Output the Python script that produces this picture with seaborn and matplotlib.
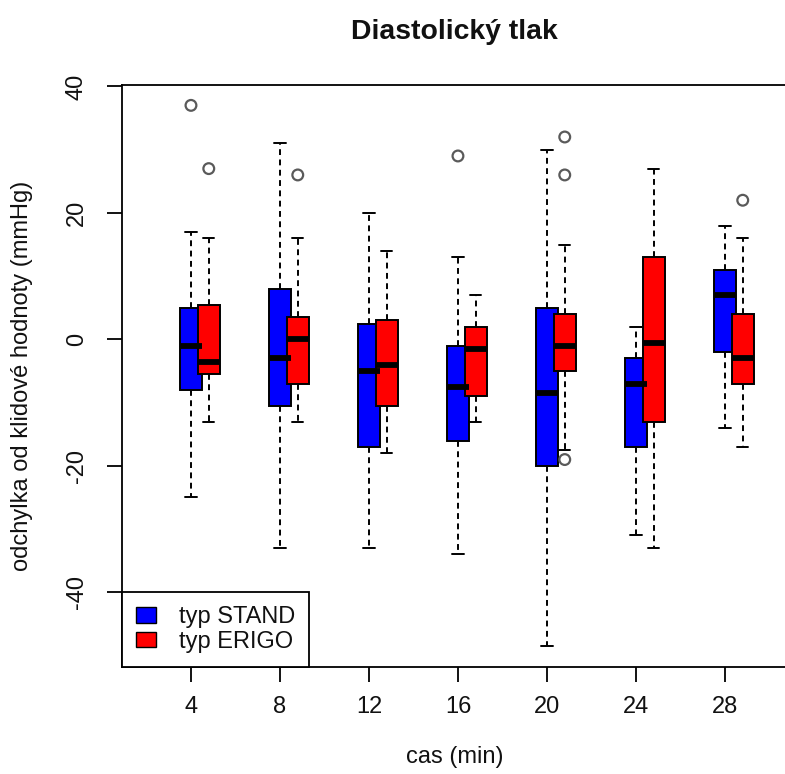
import numpy as np
import pandas as pd
import matplotlib
matplotlib.use("Agg")
import matplotlib.pyplot as plt
from matplotlib.patches import Patch
import seaborn as sns

# ---- data ----
times = [4, 8, 12, 16, 20, 24, 28]

stand_lo  = [-25, -33, -33, -34, -48.5, -31, -14]
stand_q1  = [-8, -10.5, -17, -16, -20, -17, -2]
stand_med = [-1, -3, -5, -7.5, -8.5, -7, 7]
stand_q3  = [5, 8, 2.5, -1, 5, -3, 11]
stand_hi  = [17, 31, 20, 13, 30, 2, 18]

erigo_lo  = [-13, -13, -18, -13, -17.5, -33, -17]
erigo_q1  = [-5.5, -7, -10.5, -9, -5, -13, -7]
erigo_med = [-3.5, 0, -4, -1.5, -1, -0.5, -3]
erigo_q3  = [5.5, 3.5, 3, 2, 4, 13, 4]
erigo_hi  = [16, 16, 14, 7, 15, 27, 16]

stand_out_t = [4, 16]
stand_out_v = [37, 29]
erigo_out_t = [4, 8, 20, 20, 20, 28]
erigo_out_v = [27, 26, 32, 26, -19, 22]

labels = ["typ STAND", "typ ERIGO"]
title = "Diastolický tlak"
xlabel = "cas (min)"
ylabel = "odchylka od klidové hodnoty (mmHg)"

BLUE = "#0000FF"
RED = "#FF0000"
OFFSET = 0.8  # horizontal shift of the ERIGO boxes

def long_table(lo, q1, med, q3, hi, shift):
    rows = []
    for t, a, b, c, d, e in zip(times, lo, q1, med, q3, hi):
        for v in (a, b, c, d, e):
            rows.append({"pos": t + shift, "val": v})
    return pd.DataFrame(rows)

df_s = long_table(stand_lo, stand_q1, stand_med, stand_q3, stand_hi, 0.0)
df_e = long_table(erigo_lo, erigo_q1, erigo_med, erigo_q3, erigo_hi, OFFSET)

sns.set_style("white")
plt.rcParams["font.family"] = ["Liberation Sans", "DejaVu Sans"]

fig = plt.figure(figsize=(7.85, 7.74), dpi=100)
ax = fig.add_axes([122 / 785, 107 / 774, 0.848, 582.5 / 774])

box_kw = dict(
    width=0.25, gap=0, whis=(0, 100), showfliers=False, native_scale=True,
    saturation=1, linecolor="black", linewidth=1.4,
    whiskerprops=dict(linestyle=(0, (3, 2.3)), linewidth=1.4, color="black"),
    capprops=dict(linewidth=1.4, color="black"),
    medianprops=dict(linewidth=4.2, color="black", solid_capstyle="butt"),
    boxprops=dict(edgecolor="black", linewidth=1.4),
)

sns.boxplot(data=df_s, x="pos", y="val", color=BLUE, ax=ax, **box_kw)
sns.boxplot(data=df_e, x="pos", y="val", color=RED, ax=ax, **box_kw)

sns.scatterplot(x=stand_out_t, y=stand_out_v, ax=ax, marker="o", s=60,
                facecolor="none", edgecolor="#5a5a5a", linewidth=1.6, zorder=5)
sns.scatterplot(x=[t + OFFSET for t in erigo_out_t], y=erigo_out_v, ax=ax,
                marker="o", s=60, facecolor="none", edgecolor="#5a5a5a",
                linewidth=1.6, zorder=5)

ax.set_xlim(0.9, 30.82)
ax.set_ylim(-51.8, 40.3)
ax.set_xticks(times)
ax.set_xticklabels([str(t) for t in times])
ax.set_yticks([-40, -20, 0, 20, 40])
ax.set_yticklabels(["-40", "-20", "0", "20", "40"], rotation=90, va="center")

for s in ax.spines.values():
    s.set_visible(True)
    s.set_color("black")
    s.set_linewidth(1.3)

ax.tick_params(axis="both", which="major", direction="out", length=11,
               width=1.3, color="black", labelsize=17, labelcolor="#111111",
               left=True, bottom=True)
ax.tick_params(axis="x", pad=10)
ax.tick_params(axis="y", pad=13.5)

ax.set_title(title, fontsize=20.4, fontweight="bold", pad=33, color="#111111")
ax.set_xlabel(xlabel, fontsize=17, color="#111111")
ax.xaxis.label.set_va("top")
ax.xaxis.set_label_coords(0.5, (667 - 746) / 582.5)
ax.set_ylabel(ylabel, fontsize=17, color="#111111")
ax.yaxis.label.set_va("center")
ax.yaxis.set_label_coords((22 - 122) / 665.7, 0.5)

handles = [Patch(facecolor=BLUE, edgecolor="black", linewidth=1.0),
           Patch(facecolor=RED, edgecolor="black", linewidth=1.0)]
leg = ax.legend(handles, labels, loc="lower left", bbox_to_anchor=(0, 0),
                borderaxespad=0, fontsize=17, frameon=True, fancybox=False,
                framealpha=1, edgecolor="black", borderpad=0.6,
                handlelength=0.85, handleheight=0.65, handletextpad=0.95,
                labelspacing=0.12)
leg.get_frame().set_linewidth(1.3)
for txt in leg.get_texts():
    txt.set_color("#111111")

fig.savefig("out.png", dpi=100)
